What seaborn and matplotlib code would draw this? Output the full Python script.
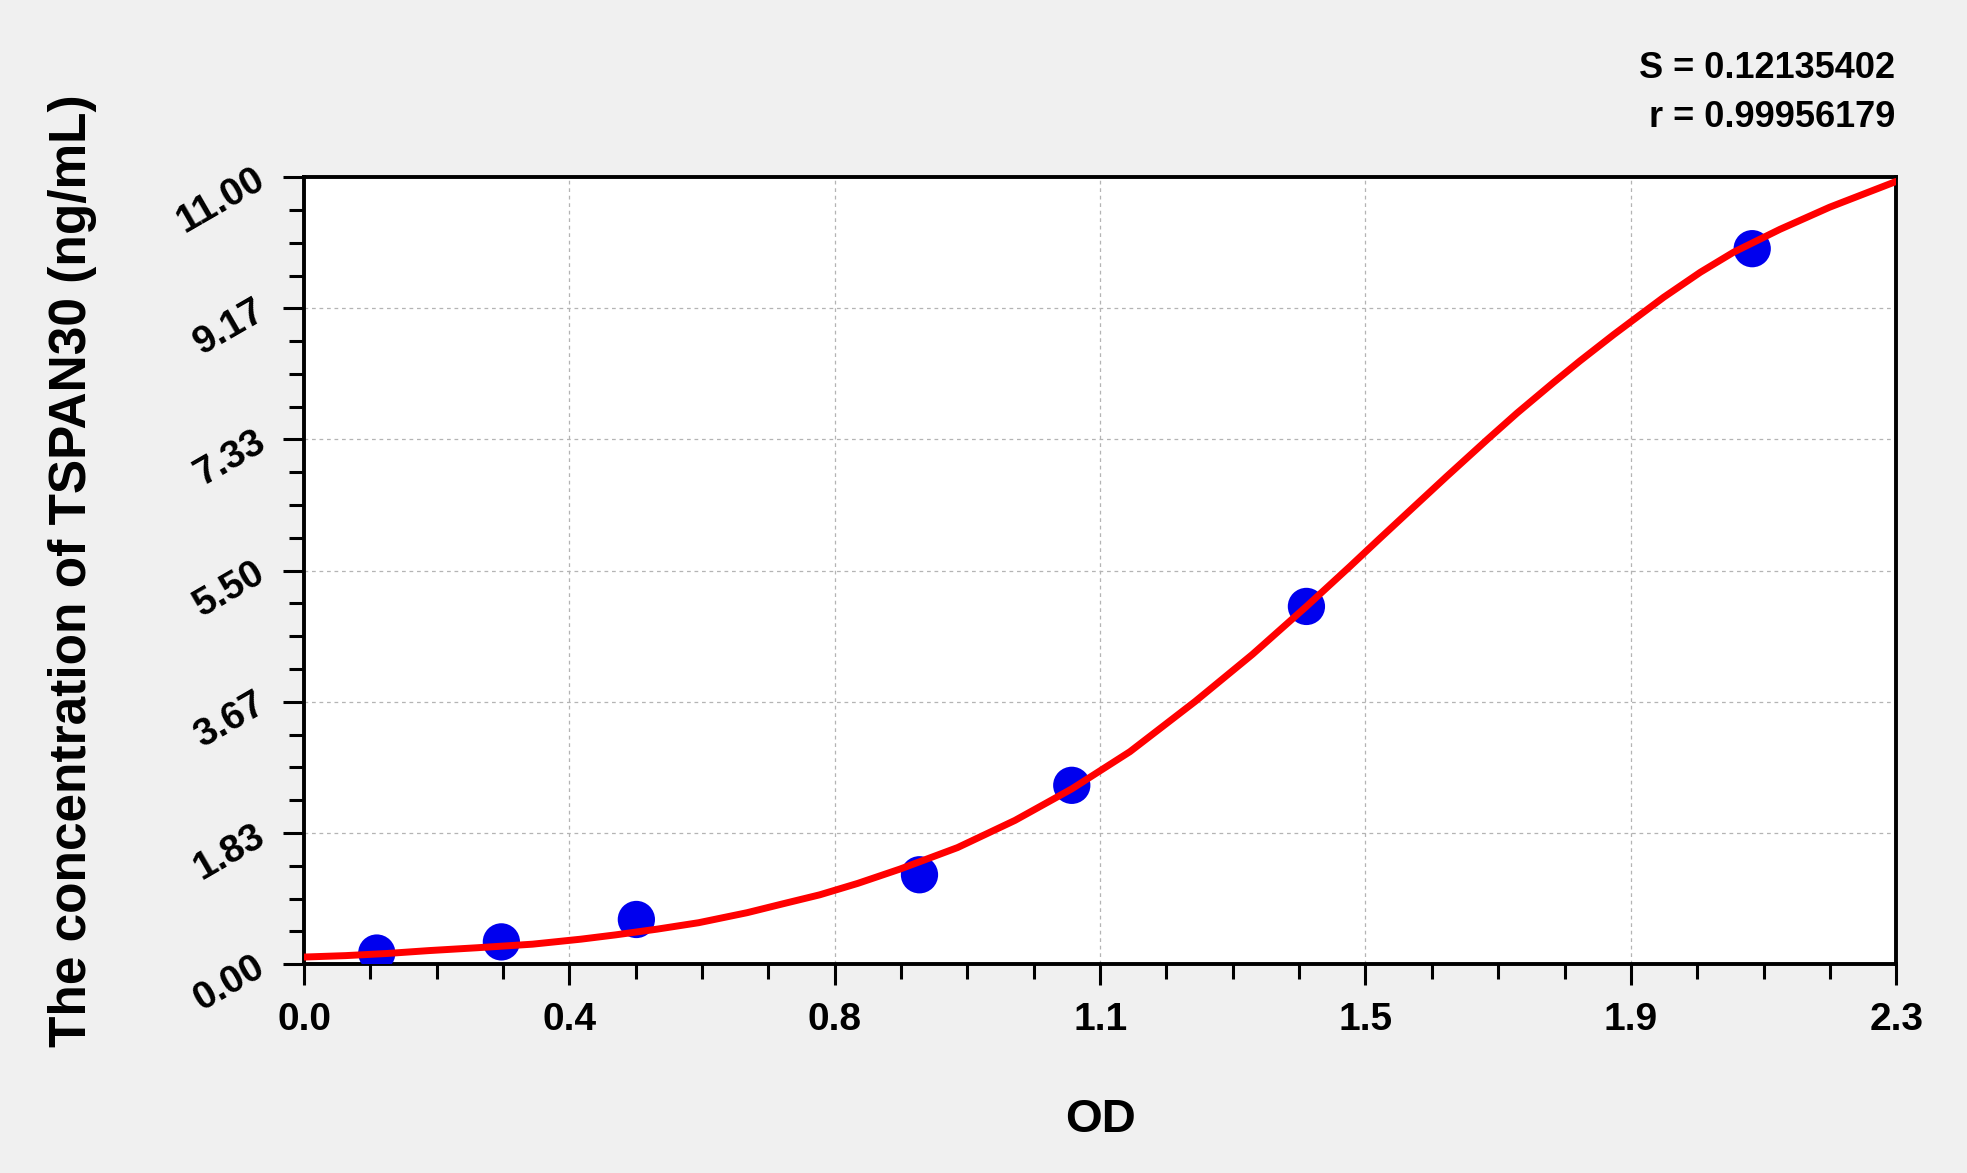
import numpy as np
import pandas as pd
import matplotlib
matplotlib.use("Agg")
import matplotlib.pyplot as plt
import seaborn as sns
from matplotlib.ticker import AutoMinorLocator

# =========================================
# DATA
# =========================================

# standard points
od_points = [0.105, 0.285, 0.480, 0.889, 1.109, 1.448, 2.092]
conc_points = [0.156, 0.312, 0.625, 1.25, 2.5, 5.0, 10.0]

# fitted curve
od_curve = [0.000, 0.060, 0.120, 0.180, 0.250, 0.330, 0.400, 0.450,
            0.510, 0.570, 0.640, 0.690, 0.745, 0.800, 0.861, 0.944,
            1.027, 1.109, 1.193, 1.287, 1.370, 1.448, 1.511, 1.554,
            1.603, 1.651, 1.709, 1.752, 1.805, 1.843, 1.892, 1.921,
            1.964, 2.017, 2.065, 2.132, 2.204, 2.300]
conc_curve = [0.10, 0.12, 0.15, 0.19, 0.23, 0.28, 0.35, 0.41,
              0.49, 0.58, 0.72, 0.84, 0.97, 1.13, 1.33, 1.63,
              2.01, 2.45, 2.97, 3.67, 4.33, 5.00, 5.56, 5.95,
              6.39, 6.82, 7.33, 7.70, 8.13, 8.43, 8.80, 9.01,
              9.32, 9.67, 9.95, 10.27, 10.58, 10.94]

x_tick_labels = ["0.0", "0.4", "0.8", "1.1", "1.5", "1.9", "2.3"]
y_tick_labels = ["0.00", "1.83", "3.67", "5.50", "7.33", "9.17", "11.00"]

stats_s = "S = 0.12135402"
stats_r = "r = 0.99956179"

x_label = "OD"
y_label = "The concentration of TSPAN30 (ng/mL)"

points_df = pd.DataFrame({"OD": od_points, "Conc": conc_points})
curve_df = pd.DataFrame({"OD": od_curve, "Conc": conc_curve})

# =========================================
# STYLE
# =========================================

sns.set_theme(style="ticks")
plt.rcParams["font.family"] = ["Liberation Sans", "DejaVu Sans"]
plt.rcParams["font.weight"] = "bold"
plt.rcParams["text.color"] = "black"
plt.rcParams["axes.labelcolor"] = "black"
plt.rcParams["xtick.color"] = "black"
plt.rcParams["ytick.color"] = "black"

fig = plt.figure(figsize=(19.67, 11.73), dpi=100, facecolor="#f0f0f0")
ax = fig.add_axes([0.1546, 0.178, 0.8094, 0.671])
ax.set_facecolor("white")

# =========================================
# PLOT
# =========================================

sns.scatterplot(data=points_df, x="OD", y="Conc", ax=ax, s=720,
                color="#0000ee", edgecolor="none", zorder=3)
sns.lineplot(data=curve_df, x="OD", y="Conc", ax=ax, color="#ff0000",
             linewidth=5.0, zorder=4, sort=True,
             solid_joinstyle="round", solid_capstyle="round")

x_max = 2.3
y_max = 11.0
ax.set_xlim(0, x_max)
ax.set_ylim(0, y_max)

ax.set_xticks(np.linspace(0, x_max, len(x_tick_labels)))
ax.set_xticklabels(x_tick_labels)
ax.set_yticks(np.linspace(0, y_max, len(y_tick_labels)))
ax.set_yticklabels(y_tick_labels)
ax.xaxis.set_minor_locator(AutoMinorLocator(4))
ax.yaxis.set_minor_locator(AutoMinorLocator(4))

ax.grid(True, which="major", color="#b4b4b4", linestyle=(0, (3, 3)),
        linewidth=0.9)

for side in ["left", "right", "top", "bottom"]:
    ax.spines[side].set_visible(True)
    ax.spines[side].set_color("black")
    ax.spines[side].set_linewidth(2.8)

ax.tick_params(which="major", direction="out", length=15, width=2.2,
               color="black", labelcolor="black", labelsize=28, pad=12)
ax.tick_params(which="minor", direction="out", length=10.5, width=2.2,
               color="black")
ax.tick_params(top=False, right=False, which="both")

for lab in ax.get_yticklabels():
    lab.set_rotation(30)
    lab.set_rotation_mode("anchor")
    lab.set_ha("right")
    lab.set_va("center")
    lab.set_fontweight("bold")
for lab in ax.get_xticklabels():
    lab.set_fontweight("bold")
ax.tick_params(axis="y", pad=15)

ax.set_xlabel(x_label, fontsize=34, fontweight="bold", color="black")
ax.set_ylabel(y_label, fontsize=37, fontweight="bold", color="black")
ax.xaxis.set_label_coords(0.5, -0.17)
ax.yaxis.set_label_coords(-0.13, 0.5)

fig.text(0.9634, 0.9335, stats_s, ha="right", va="baseline",
         fontsize=26, fontweight="bold", color="black")
fig.text(0.9634, 0.8917, stats_r, ha="right", va="baseline",
         fontsize=26, fontweight="bold", color="black")

fig.savefig("out.png", dpi=100, facecolor=fig.get_facecolor())
plt.close(fig)
